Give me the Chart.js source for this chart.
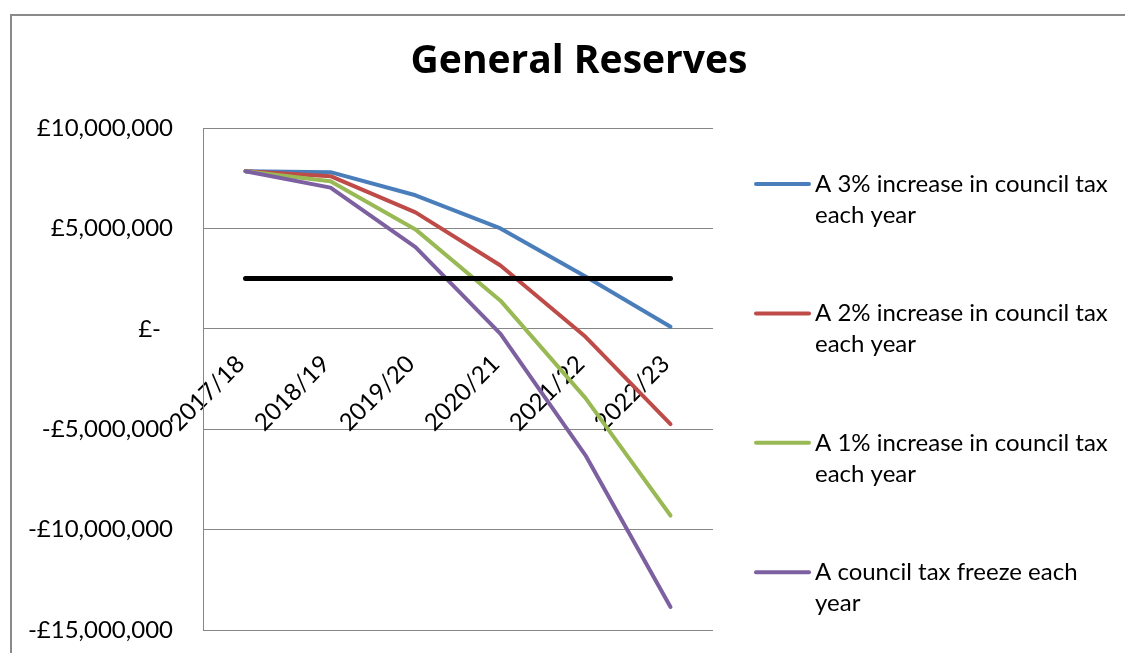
<!DOCTYPE html>
<html>
<head>
<meta charset="utf-8">
<script src="https://cdn.jsdelivr.net/npm/chart.js@4.4.1/dist/chart.umd.min.js"></script>
<style>
  html, body { margin: 0; padding: 0; background: #fff; }
  #wrap { position: relative; width: 1125px; height: 653px; overflow: hidden; }
  #frame { position: absolute; left: 10px; top: 14px; width: 1200px; height: 700px; border: 2px solid #8a8a8a; box-sizing: border-box; }
  #c { position: absolute; left: 0; top: 0; }
</style>
</head>
<body>
<div id="wrap">
  <div id="frame"></div>
  <canvas id="c" width="1125" height="653"></canvas>
</div>
<script>
// ---- data ----
const chartTitle = 'General Reserves';
const categories = ['2017/18', '2018/19', '2019/20', '2020/21', '2021/22', '2022/23'];
const seriesLabels = [
  'A 3% increase in council tax each year',
  'A 2% increase in council tax each year',
  'A 1% increase in council tax each year',
  'A council tax freeze each year'
];
const increase3 = [7850000, 7800000, 6650000, 5000000, 2600000, 100000];
const increase2 = [7850000, 7600000, 5800000, 3150000, -400000, -4750000];
const increase1 = [7850000, 7350000, 4950000, 1400000, -3450000, -9300000];
const freeze    = [7850000, 7030000, 4070000, -250000, -6300000, -13850000];
const minimumLevel = [2500000, 2500000, 2500000, 2500000, 2500000, 2500000];
const yTickValues = [10000000, 5000000, 0, -5000000, -10000000, -15000000];
const yTickLabels = ['£10,000,000', '£5,000,000', '£-\u2002', '-£5,000,000', '-£10,000,000', '-£15,000,000'];

// ---- styles ----
const seriesColors = ['#4A7EBB', '#BE4B48', '#98B954', '#7D60A0'];
const FONT = 'Lato';
Chart.defaults.font.family = FONT;
Chart.defaults.color = '#000';

const titlePlugin = {
  id: 'fixedTitle',
  afterDraw(chart) {
    const ctx = chart.ctx;
    ctx.save();
    ctx.font = 'bold 39px "Open Sans"';
    ctx.fillStyle = '#000';
    ctx.textAlign = 'center';
    ctx.textBaseline = 'alphabetic';
    ctx.fillText(chartTitle, 579, 73);
    ctx.restore();
  }
};

function wrapText(ctx, text, maxWidth) {
  const words = text.split(' ');
  const lines = [];
  let cur = '';
  words.forEach(w => {
    const test = cur ? cur + ' ' + w : w;
    if (ctx.measureText(test).width > maxWidth && cur) { lines.push(cur); cur = w; }
    else cur = test;
  });
  if (cur) lines.push(cur);
  return lines;
}

const legendPlugin = {
  id: 'sideLegend',
  afterDraw(chart) {
    const ctx = chart.ctx;
    ctx.save();
    ctx.font = '24px ' + FONT;
    ctx.textAlign = 'left';
    ctx.textBaseline = 'middle';
    const y0 = 184, step = 129.4, lineGap = 31;
    chart.data.datasets.forEach((ds, i) => {
      if (ds.hideInLegend) return;
      const y = y0 + i * step;
      ctx.strokeStyle = ds.borderColor;
      ctx.lineWidth = 4;
      ctx.lineCap = 'round';
      ctx.beginPath();
      ctx.moveTo(756, y);
      ctx.lineTo(809, y);
      ctx.stroke();
      ctx.fillStyle = '#000';
      wrapText(ctx, ds.label, 308).forEach((ln, j) => ctx.fillText(ln, 815, y + j * lineGap));
    });
    ctx.restore();
  }
};

const seriesData = [increase3, increase2, increase1, freeze];
const datasets = seriesData.map((d, i) => ({
  label: seriesLabels[i],
  data: d,
  borderColor: seriesColors[i],
  backgroundColor: seriesColors[i],
  borderWidth: 4,
  pointRadius: 0,
  tension: 0,
  borderJoinStyle: 'round',
  borderCapStyle: 'round',
  order: 4 - i
}));
datasets.push({
  label: 'Minimum level',
  data: minimumLevel,
  borderColor: '#000',
  backgroundColor: '#000',
  borderWidth: 5,
  pointRadius: 0,
  borderCapStyle: 'round',
  hideInLegend: true,
  order: 0
});

new Chart(document.getElementById('c'), {
  type: 'line',
  data: { labels: categories, datasets },
  options: {
    responsive: false,
    animation: false,
    devicePixelRatio: 1,
    layout: { padding: { top: 128, right: 412, bottom: 23, left: 0 } },
    plugins: { legend: { display: false }, title: { display: false }, tooltip: { enabled: false } },
    scales: {
      x: {
        type: 'category',
        position: { y: 0 },
        offset: true,
        grid: { display: false },
        border: { display: false },
        ticks: { minRotation: 45, maxRotation: 45, autoSkip: false, font: { size: 24 }, color: '#000', padding: 13, labelOffset: -5 },
        afterFit(scale) { scale.height = 0; }
      },
      y: {
        min: -15000000,
        max: 10000000,
        afterBuildTicks(scale) { scale.ticks = yTickValues.map(v => ({ value: v })); },
        ticks: {
          callback: (v) => yTickLabels[yTickValues.indexOf(v)],
          padding: 0,
          font: { size: 24 },
          color: '#000'
        },
        grid: { color: '#868686', lineWidth: 1, drawTicks: true, tickLength: 30, tickColor: 'rgba(0,0,0,0)' },
        border: { display: true, color: '#868686', width: 1 },
        afterFit(scale) { scale.width = 203; }
      }
    }
  },
  plugins: [titlePlugin, legendPlugin]
});
</script>
</body>
</html>
